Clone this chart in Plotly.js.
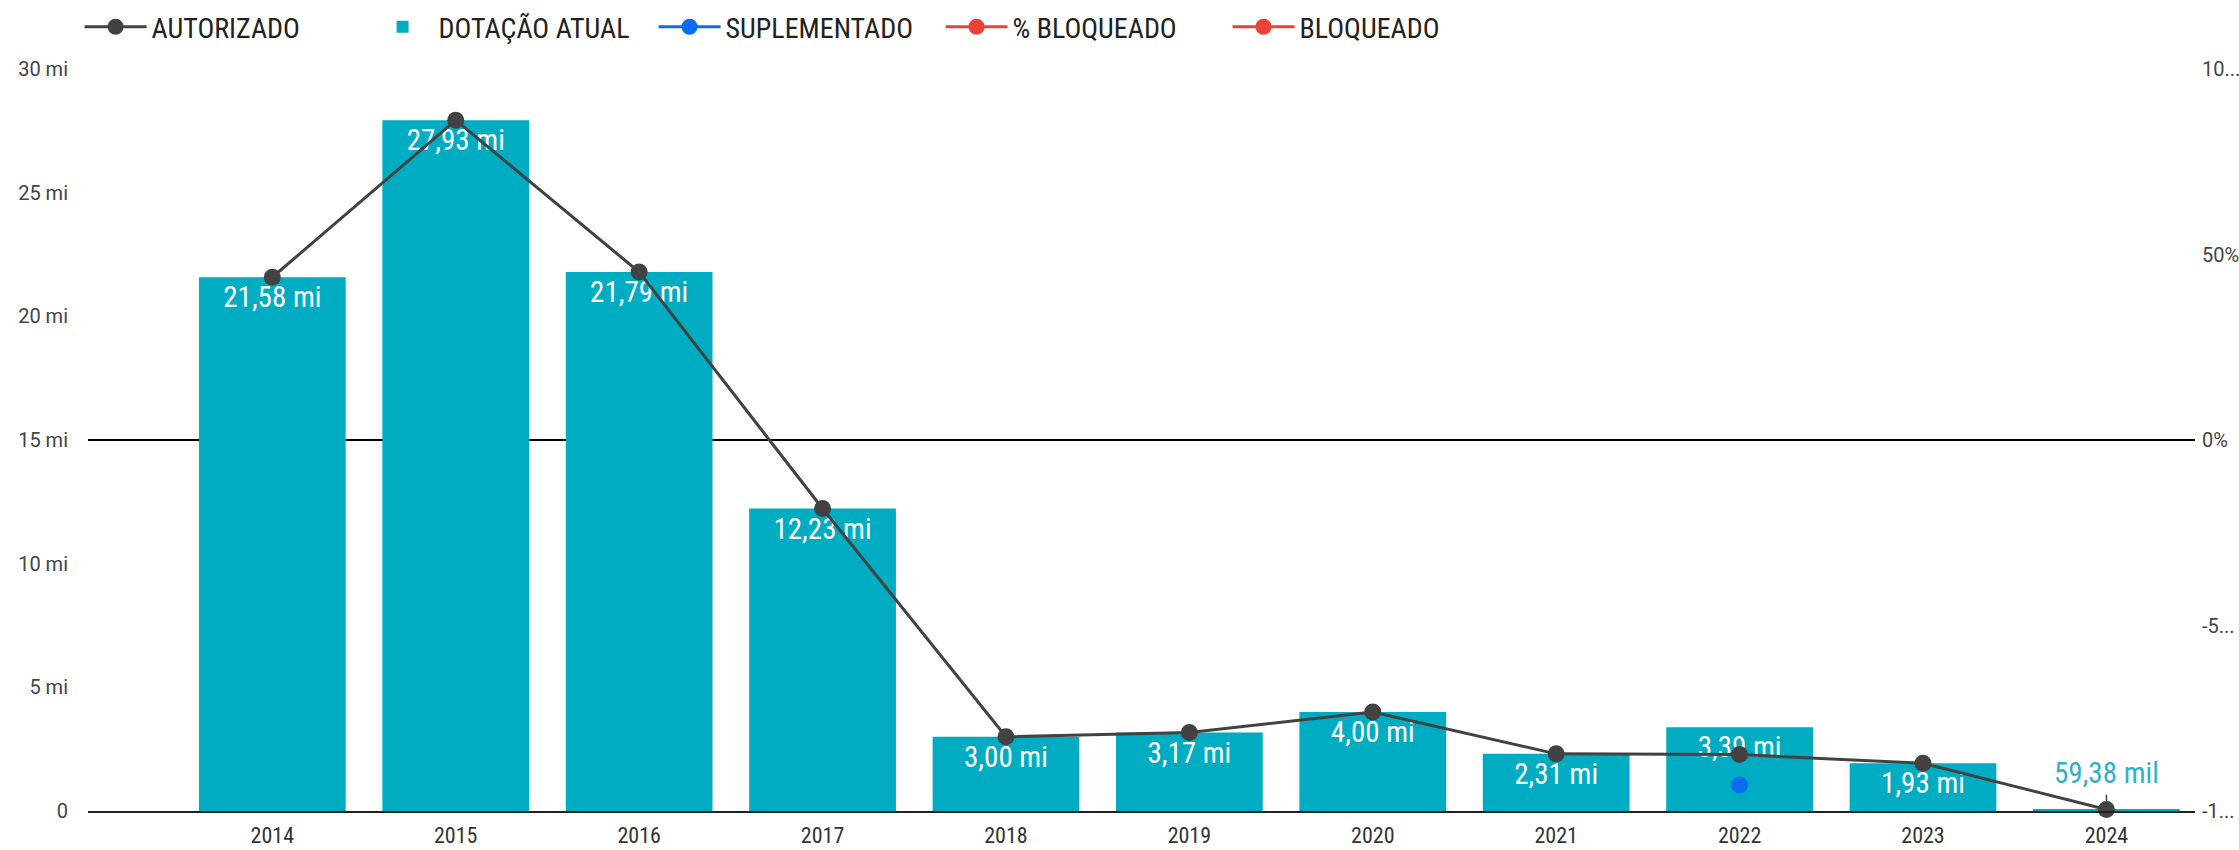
<!DOCTYPE html>
<html>
<head>
<meta charset="utf-8">
<script src="https://cdn.plot.ly/plotly-3.0.1.min.js"></script>
<style>
  html, body { margin: 0; padding: 0; background: #fff; }
  #chart { width: 2239px; height: 850px; }
</style>
</head>
<body>
<div id="chart"></div>
<script>
// ---- data (values in millions) ----
const years = ['2014','2015','2016','2017','2018','2019','2020','2021','2022','2023','2024'];
const dotacaoAtual = [21.58, 27.93, 21.79, 12.23, 3.00, 3.17, 4.00, 2.31, 3.39, 1.93, 0.05938];
const autorizado   = [21.58, 27.93, 21.79, 12.23, 3.00, 3.17, 4.00, 2.31, 2.28, 1.93, 0.05938];
const suplementado = [null, null, null, null, null, null, null, null, 1.05, null, null];
const pctBloqueado = [null, null, null, null, null, null, null, null, null, null, null];
const bloqueado    = [null, null, null, null, null, null, null, null, null, null, null];

const leftTickVals  = [0, 5, 10, 15, 20, 25, 30];
const leftTickText  = ['0', '5 mi', '10 mi', '15 mi', '20 mi', '25 mi', '30 mi'];
const rightTickVals = [-1, -0.5, 0, 0.5, 1];
const rightTickText = ['-1...', '-5...', '0%', '50%', '10...'];

function fmtLabel(v) {
  if (v < 1) return (v * 1000).toFixed(2).replace('.', ',') + ' mil';
  return v.toFixed(2).replace('.', ',') + ' mi';
}

const NARROW = '"Roboto Condensed", Roboto, sans-serif';
const ROBOTO = 'Roboto, "Liberation Sans", sans-serif';
const TEAL = '#00acc1';
const DARK = '#424242';

// labels inside the bars; bars too small for an inside label get an outside label above
const isSmall = dotacaoAtual.map(v => v < 1);
const barText = dotacaoAtual.map((v, i) => isSmall[i] ? '' : fmtLabel(v));
const smallX = years.filter((y, i) => isSmall[i]);
const smallY = dotacaoAtual.filter((v, i) => isSmall[i]);
const smallText = smallY.map(fmtLabel);

const traces = [
  {
    type: 'scatter', mode: 'lines+markers', name: 'AUTORIZADO',
    x: years, y: autorizado,
    line: {color: DARK, width: 3},
    marker: {color: DARK, size: 17},
    cliponaxis: false, hoverinfo: 'x+y'
  },
  {
    type: 'bar', name: 'DOTAÇÃO ATUAL',
    x: years, y: dotacaoAtual,
    marker: {color: TEAL},
    width: 0.8,
    text: barText,
    textposition: 'inside',
    insidetextanchor: 'end',
    textangle: 0,
    constraintext: 'none',
    insidetextfont: {family: NARROW, size: 29, color: '#ffffff'},
    hoverinfo: 'x+y'
  },
  {
    type: 'scatter', mode: 'lines+markers', name: 'SUPLEMENTADO',
    x: years, y: suplementado,
    line: {color: '#0b6cf2', width: 3},
    marker: {color: '#0b6cf2', size: 17},
    cliponaxis: false
  },
  {
    type: 'scatter', mode: 'lines+markers', name: '% BLOQUEADO',
    x: years, y: pctBloqueado, yaxis: 'y2',
    line: {color: '#ea4335', width: 3},
    marker: {color: '#ea4335', size: 17}
  },
  {
    type: 'scatter', mode: 'lines+markers', name: 'BLOQUEADO',
    x: years, y: bloqueado,
    line: {color: '#ea4335', width: 3},
    marker: {color: '#ea4335', size: 17}
  },
  {
    // outside label (with short leader line) for the tiny bar
    type: 'scatter', mode: 'markers+text', showlegend: false, hoverinfo: 'skip',
    x: smallX, y: smallY, text: smallText,
    textposition: 'top center',
    textfont: {family: NARROW, size: 29, color: '#2eb1c6'},
    marker: {size: 30, opacity: 0, color: TEAL},
    error_y: {type: 'constant', symmetric: false, value: 0.6, valueminus: 0,
              width: 0, thickness: 1.5, color: DARK},
    cliponaxis: false
  }
];

const layout = {
  width: 2239, height: 850,
  margin: {l: 88, r: 44, t: 69, b: 39, autoexpand: false},
  paper_bgcolor: '#ffffff', plot_bgcolor: '#ffffff',
  showlegend: true,
  legend: {
    orientation: 'h', x: -0.004, xanchor: 'left', y: 1.0565, yanchor: 'middle',
    font: {family: NARROW, size: 28, color: '#212121'},
    itemwidth: 62, traceorder: 'normal',
    entrywidth: 210, entrywidthmode: 'pixels'
  },
  xaxis: {
    type: 'category',
    range: [-1.005, 10.483],
    showgrid: false, zeroline: false,
    showline: true, linecolor: '#212121', linewidth: 2,
    ticks: '', ticklabelstandoff: 4,
    tickfont: {family: NARROW, size: 22, color: '#333333'},
    fixedrange: true
  },
  yaxis: {
    range: [0, 30],
    tickvals: leftTickVals, ticktext: leftTickText,
    showgrid: false, zeroline: false, showline: false,
    ticks: '', ticklabelstandoff: 19,
    tickfont: {family: ROBOTO, size: 20, color: '#444444'}
  },
  yaxis2: {
    overlaying: 'y', side: 'right',
    range: [-1, 1],
    tickvals: rightTickVals, ticktext: rightTickText,
    showgrid: false, showline: false,
    zeroline: true, zerolinecolor: '#000000', zerolinewidth: 1.5,
    ticks: '', ticklabelstandoff: 6,
    tickfont: {family: ROBOTO, size: 20, color: '#444444'}
  },
  bargap: 0.2
};

Plotly.newPlot('chart', traces, layout, {displayModeBar: false, responsive: false});
</script>
</body>
</html>
